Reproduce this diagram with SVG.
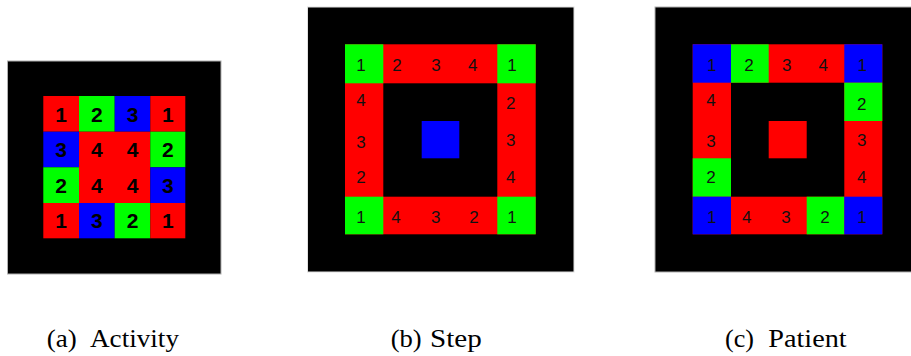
<svg xmlns="http://www.w3.org/2000/svg" width="911" height="356" viewBox="0 0 911 356">
<style>
.bg{fill:#000;stroke:#b0b0b0;stroke-width:1}
.r{fill:#ff0000}.g{fill:#00ff00}.b{fill:#0000ff}.k{fill:#000}
.da{font-family:"Liberation Sans",Arial,sans-serif;font-weight:bold;font-size:21px;fill:#000;text-anchor:middle}
.ds{font-family:"Liberation Sans",Arial,sans-serif;font-size:17px;fill:#111;text-anchor:middle}
.cap{font-family:"Liberation Serif","Times New Roman",serif;font-size:25px;fill:#000}
</style>
<g id="panel-a">
<rect class="bg" x="7.5" y="61" width="213.5" height="213"/>
<rect class="r" x="43.3" y="96" width="35.7" height="35.7"/>
<rect class="g" x="79" y="96" width="35.7" height="35.7"/>
<rect class="b" x="114.7" y="96" width="35.6" height="35.7"/>
<rect class="r" x="150.3" y="96" width="35" height="35.7"/>
<rect class="b" x="43.3" y="131.7" width="35.7" height="35.6"/>
<rect class="r" x="79" y="131.7" width="71.3" height="71.3"/>
<rect class="g" x="150.3" y="131.7" width="35" height="35.6"/>
<rect class="g" x="43.3" y="167.3" width="35.7" height="35.7"/>
<rect class="b" x="150.3" y="167.3" width="35" height="35.7"/>
<rect class="r" x="43.3" y="203" width="35.7" height="35.3"/>
<rect class="b" x="79" y="203" width="35.7" height="35.3"/>
<rect class="g" x="114.7" y="203" width="35.6" height="35.3"/>
<rect class="r" x="150.3" y="203" width="35" height="35.3"/>
<text class="da" x="61" y="121.5">1</text><text class="da" x="96.8" y="121.5">2</text><text class="da" x="132.5" y="121.5">3</text><text class="da" x="167.8" y="121.5">1</text>
<text class="da" x="61" y="157">3</text><text class="da" x="96.8" y="157">4</text><text class="da" x="132.5" y="157">4</text><text class="da" x="167.8" y="157">2</text>
<text class="da" x="61" y="192.7">2</text><text class="da" x="96.8" y="192.7">4</text><text class="da" x="132.5" y="192.7">4</text><text class="da" x="167.8" y="192.7">3</text>
<text class="da" x="61" y="228.2">1</text><text class="da" x="96.8" y="228.2">3</text><text class="da" x="132.5" y="228.2">2</text><text class="da" x="167.8" y="228.2">1</text>
</g>
<g id="panel-b">
<rect class="bg" x="307.5" y="7" width="266.5" height="265" style="stroke:#e0e0e0"/>
<rect class="r" x="345" y="44.3" width="190.7" height="190"/>
<rect class="k" x="383.3" y="83.3" width="114" height="113.4"/>
<rect class="g" x="345" y="44.3" width="38.3" height="39"/>
<rect class="g" x="497.3" y="44.3" width="38.4" height="39"/>
<rect class="g" x="345" y="196.7" width="38.3" height="37.6"/>
<rect class="g" x="497.3" y="196.7" width="38.4" height="37.6"/>
<rect class="b" x="421.7" y="121" width="37.6" height="37.3"/>
<text class="ds" x="361" y="71">1</text><text class="ds" x="397" y="71">2</text><text class="ds" x="436" y="71">3</text><text class="ds" x="472.7" y="71">4</text><text class="ds" x="512" y="71">1</text>
<text class="ds" x="361" y="106">4</text><text class="ds" x="361" y="147.7">3</text><text class="ds" x="361" y="182.7">2</text>
<text class="ds" x="510.7" y="109.3">2</text><text class="ds" x="510.7" y="146">3</text><text class="ds" x="510.7" y="182.7">4</text>
<text class="ds" x="361" y="222.7">1</text><text class="ds" x="396" y="222.7">4</text><text class="ds" x="435.7" y="222.7">3</text><text class="ds" x="474" y="222.7">2</text><text class="ds" x="512" y="222.7">1</text>
</g>
<g id="panel-c">
<rect class="bg" x="655" y="7" width="257" height="265"/>
<rect class="r" x="692.7" y="44.3" width="189.6" height="190"/>
<rect class="k" x="731" y="82.7" width="113.3" height="114"/>
<rect class="b" x="692.7" y="44.3" width="38.3" height="38.4"/>
<rect class="g" x="731" y="44.3" width="37.7" height="38.4"/>
<rect class="b" x="844.3" y="44.3" width="38" height="38.4"/>
<rect class="g" x="844.3" y="82.7" width="38" height="38.3"/>
<rect class="g" x="692.7" y="158.3" width="38.3" height="38.4"/>
<rect class="b" x="692.7" y="196.7" width="38.3" height="37.6"/>
<rect class="g" x="806.7" y="196.7" width="37.6" height="37.6"/>
<rect class="b" x="844.3" y="196.7" width="38" height="37.6"/>
<rect class="r" x="768.7" y="121" width="38" height="37.3"/>
<text class="ds" x="711.7" y="71">1</text><text class="ds" x="749" y="71">2</text><text class="ds" x="786.7" y="71">3</text><text class="ds" x="823.3" y="71">4</text><text class="ds" x="862.3" y="71">1</text>
<text class="ds" x="711" y="106">4</text><text class="ds" x="711" y="146.7">3</text><text class="ds" x="711" y="182.7">2</text>
<text class="ds" x="861.7" y="110">2</text><text class="ds" x="861.7" y="146">3</text><text class="ds" x="861.7" y="182.7">4</text>
<text class="ds" x="711.7" y="222.7">1</text><text class="ds" x="746.7" y="222.7">4</text><text class="ds" x="786" y="222.7">3</text><text class="ds" x="825" y="222.7">2</text><text class="ds" x="862" y="222.7">1</text>
</g>
<g id="captions">
<text class="cap" x="46.7" y="347" textLength="30" lengthAdjust="spacingAndGlyphs">(a)</text>
<text class="cap" x="90" y="347" textLength="89" lengthAdjust="spacingAndGlyphs">Activity</text>
<text class="cap" x="390.7" y="347" textLength="31" lengthAdjust="spacingAndGlyphs">(b)</text>
<text class="cap" x="430" y="347" textLength="51.7" lengthAdjust="spacingAndGlyphs">Step</text>
<text class="cap" x="725" y="347" textLength="29" lengthAdjust="spacingAndGlyphs">(c)</text>
<text class="cap" x="768.3" y="347" textLength="78.4" lengthAdjust="spacingAndGlyphs">Patient</text>
</g>
<g id="connectors"/>
</svg>
